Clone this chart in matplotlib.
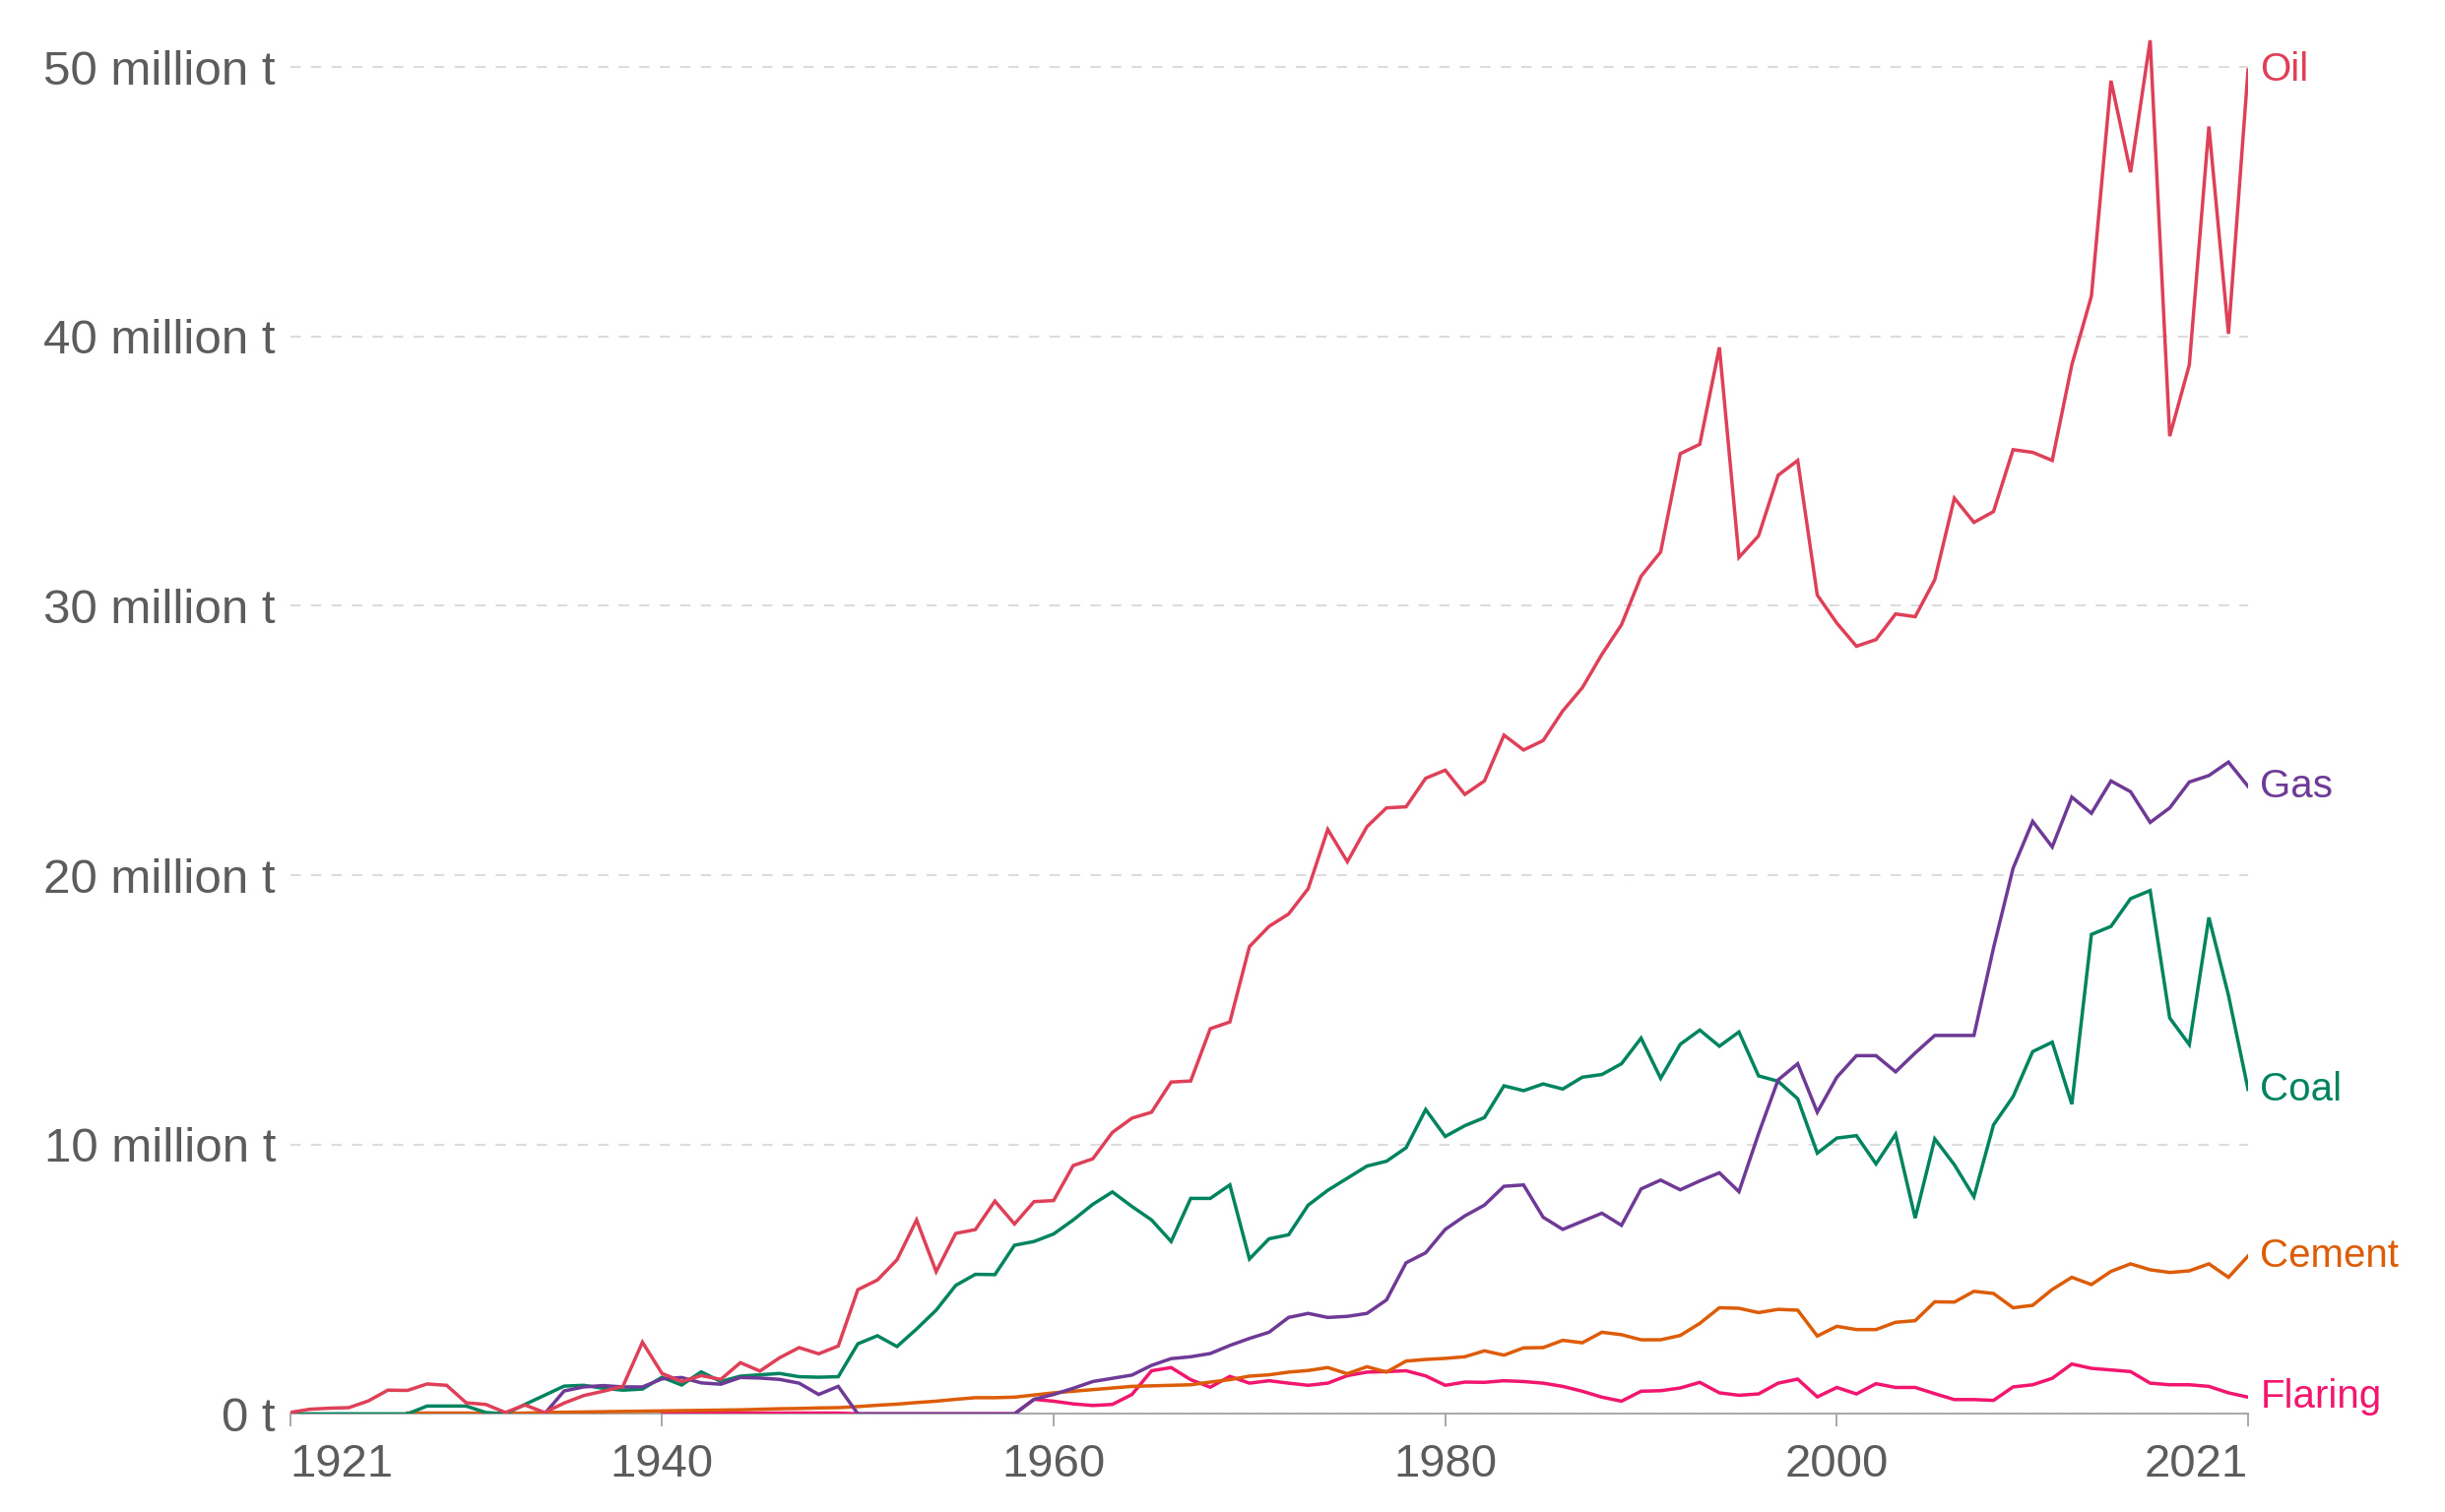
import matplotlib
matplotlib.use("Agg")
import matplotlib.pyplot as plt
import numpy as np

plt.rcParams['font.family'] = ['Liberation Sans', 'DejaVu Sans']

years = list(range(1921, 2022))
N = None

oil = [0.05, 0.17, 0.21, 0.23, 0.48, 0.88, 0.87, 1.11, 1.06,            # 1921-1929
       0.41, 0.35, 0.05, 0.33, 0.05, 0.40, 0.68, 0.84, 1.02, 2.66,      # 1930-1939
       1.50, 1.20, 1.42, 1.28, 1.90, 1.59, 2.08, 2.46, 2.23, 2.52,      # 1940-1949
       4.61, 4.97, 5.72, 7.20, 5.28, 6.70, 6.84, 7.90, 7.05, 7.88,      # 1950-1959
       7.92, 9.22, 9.47, 10.45, 10.98, 11.20, 12.32, 12.36, 14.30, 14.55,  # 1960-1969
       17.35, 18.10, 18.56, 19.50, 21.70, 20.50, 21.80, 22.50, 22.54, 23.60,  # 1970-1979
       23.90, 23.00, 23.50, 25.20, 24.65, 25.00, 26.10, 26.96, 28.20, 29.30,  # 1980-1989
       31.10, 32.00, 35.65, 36.00, 39.60, 31.80, 32.60, 34.85, 35.40, 30.40,  # 1990-1999
       29.36, 28.50, 28.75, 29.70, 29.60, 30.97, 34.00, 33.10, 33.50, 35.80,  # 2000-2009
       35.70, 35.40, 38.95, 41.50, 49.50, 46.10, 51.00, 36.30, 38.95, 47.80,  # 2010-2019
       40.10, 49.90]                                                     # 2020-2021

coal = [0, 0, 0, 0, 0, 0, 0, 0.29, 0.29,                                  # 1921-1929
        0.29, 0.05, 0.0, 0.35, 0.69, 1.03, 1.06, 0.95, 0.88, 0.92,        # 1930-1939
        1.36, 1.07, 1.56, 1.20, 1.40, 1.45, 1.50, 1.38, 1.36, 1.38,       # 1940-1949
        2.60, 2.90, 2.50, 3.15, 3.85, 4.77, 5.18, 5.17, 6.26, 6.40,       # 1950-1959
        6.68, 7.20, 7.78, 8.24, 7.70, 7.20, 6.40, 8.00, 8.00, 8.50,       # 1960-1969
        5.75, 6.50, 6.65, 7.75, 8.30, 8.75, 9.20, 9.38, 9.88, 11.30,      # 1970-1979
        10.30, 10.70, 11.00, 12.18, 12.00, 12.25, 12.06, 12.50, 12.60, 13.00,  # 1980-1989
        13.95, 12.46, 13.72, 14.25, 13.65, 14.18, 12.55, 12.35, 11.70, 9.68,   # 1990-1999
        10.24, 10.33, 9.28, 10.38, 7.27, 10.21, 9.25, 8.06, 10.73, 11.78,      # 2000-2009
        13.45, 13.80, 11.50, 17.80, 18.10, 19.13, 19.43, 14.70, 13.71, 18.43,  # 2010-2019
        15.54, 12.05]

gas = [N, N, N, N, N, N, N, N, N,                                         # 1921-1929
       N, N, N, N, 0.0, 0.85, 1.00, 1.05, 1.00, 1.00,                     # 1930-1939
       1.30, 1.35, 1.15, 1.10, 1.35, 1.33, 1.28, 1.14, 0.72, 1.02,        # 1940-1949
       0, 0, 0, 0, 0, 0, 0, 0, 0, 0.54,                                   # 1950-1959
       0.72, 0.95, 1.20, 1.32, 1.44, 1.80, 2.05, 2.12, 2.24, 2.54,        # 1960-1969
       2.80, 3.03, 3.58, 3.73, 3.58, 3.62, 3.73, 4.23, 5.61, 5.98,        # 1970-1979
       6.85, 7.35, 7.75, 8.45, 8.50, 7.30, 6.85, 7.15, 7.45, 7.00,        # 1980-1989
       8.35, 8.68, 8.32, 8.65, 8.95, 8.25, 10.40, 12.40, 13.00, 11.20,    # 1990-1999
       12.50, 13.30, 13.30, 12.70, 13.40, 14.05, 14.05, 14.05, 17.30, 20.26,  # 2000-2009
       22.00, 21.05, 22.90, 22.30, 23.50, 23.10, 21.96, 22.50, 23.46, 23.70,  # 2010-2019
       24.20, 23.30]

cement = [N, N, N, N, N, N, 0.03, 0.03, 0.03,                             # 1921-1929
          0.03, 0.02, 0.02, 0.03, 0.05, 0.06, 0.07, 0.08, 0.09, 0.10,     # 1930-1939
          0.11, 0.12, 0.13, 0.14, 0.15, 0.17, 0.19, 0.20, 0.22, 0.23,     # 1940-1949
          0.27, 0.32, 0.36, 0.42, 0.47, 0.54, 0.60, 0.60, 0.62, 0.70,     # 1950-1959
          0.78, 0.84, 0.90, 0.96, 1.02, 1.04, 1.06, 1.08, 1.18, 1.27,     # 1960-1969
          1.40, 1.45, 1.55, 1.61, 1.72, 1.49, 1.75, 1.55, 1.96, 2.02,     # 1970-1979
          2.06, 2.12, 2.34, 2.18, 2.45, 2.46, 2.73, 2.64, 3.03, 2.94,     # 1980-1989
          2.75, 2.75, 2.91, 3.36, 3.94, 3.92, 3.76, 3.88, 3.85, 2.89,     # 1990-1999
          3.25, 3.13, 3.13, 3.40, 3.46, 4.16, 4.15, 4.55, 4.47, 3.94,     # 2000-2009
          4.03, 4.62, 5.07, 4.80, 5.29, 5.57, 5.35, 5.25, 5.31, 5.57,     # 2010-2019
          5.07, 5.86]

flaring = [N, N, N, N, N, N, N, N, N,                                     # 1921-1929
           N, N, N, N, N, N, N, N, N, N,                                  # 1930-1939
           0.03, 0.03, 0.03, 0.03, 0.03, 0.03, 0.03, 0.03, 0.03, 0.03,    # 1940-1949
           0, 0, 0, 0, 0, 0, 0, 0, 0, 0.54,                               # 1950-1959
           0.47, 0.37, 0.31, 0.35, 0.72, 1.60, 1.72, 1.27, 0.99, 1.39,    # 1960-1969
           1.14, 1.23, 1.14, 1.06, 1.14, 1.42, 1.55, 1.57, 1.60, 1.41,    # 1970-1979
           1.06, 1.18, 1.17, 1.23, 1.20, 1.14, 1.02, 0.84, 0.62, 0.47,    # 1980-1989
           0.84, 0.86, 0.96, 1.17, 0.78, 0.69, 0.74, 1.14, 1.29, 0.63,    # 1990-1999
           0.98, 0.74, 1.12, 0.98, 0.98, 0.75, 0.53, 0.53, 0.50, 1.00,    # 2000-2009
           1.08, 1.32, 1.85, 1.69, 1.63, 1.57, 1.14, 1.08, 1.08, 1.02,    # 2010-2019
           0.78, 0.62]

series_names = ["Flaring", "Cement", "Coal", "Gas", "Oil"]
series_values = [flaring, cement, coal, gas, oil]
series_colors = ["#F2166F", "#DC5C08", "#00845F", "#6E3A96", "#DE4058"]

ytick_values = [0, 10, 20, 30, 40, 50]
ytick_labels = ["0 t", "10 million t", "20 million t", "30 million t",
                "40 million t", "50 million t"]
xtick_values = [1921, 1940, 1960, 1980, 2000, 2021]
xtick_labels = ["1921", "1940", "1960", "1980", "2000", "2021"]

fig = plt.figure(figsize=(24.83, 15.36), dpi=100)
ax = fig.add_axes([0.11861, 0.06491, 0.80084, 0.92625])

for i, (name, vals, col) in enumerate(zip(series_names, series_values, series_colors)):
    arr = np.array([np.nan if v is None else v for v in vals], dtype=float)
    ax.plot(years, arr, color=col, lw=2.5, zorder=3 + i, solid_joinstyle='miter')
    ax.annotate(name, xy=(years[-1], arr[-1]), xytext=(9, 0),
                textcoords='offset points', va='center', ha='left',
                fontsize=29, color=col, annotation_clip=False)

ax.set_xlim(1921, 2021)
ax.set_ylim(0, 52)

ax.set_yticks(ytick_values, ytick_labels)
ax.set_xticks(xtick_values, xtick_labels)

for s in ["top", "right", "left"]:
    ax.spines[s].set_visible(False)
ax.spines["bottom"].set_color("#a8a8a8")
ax.spines["bottom"].set_linewidth(1.4)
ax.spines["bottom"].set_zorder(2.5)

ax.tick_params(axis='y', length=0, pad=10.5, labelsize=35.5, labelcolor="#5c5c5c")
ax.tick_params(axis='x', length=9.5, width=1.4, color="#a8a8a8", direction='out',
               pad=12, labelsize=34, labelcolor="#5c5c5c")

labels = ax.get_xticklabels()
labels[0].set_horizontalalignment('left')
labels[-1].set_horizontalalignment('right')

ax.yaxis.grid(True, color="#dcdcdc", lw=1.5, linestyle=(0, (5, 5)))
ax.set_axisbelow(True)

fig.savefig("out.png", dpi=100, facecolor="white")
